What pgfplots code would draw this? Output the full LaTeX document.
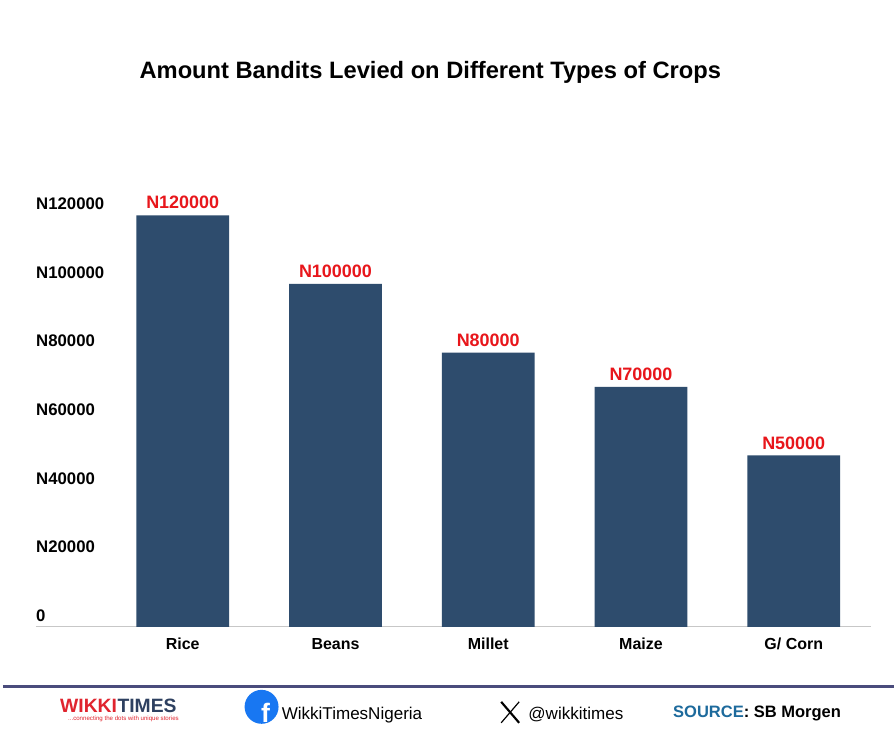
\documentclass[border=0pt]{standalone}
\usepackage{pgfplots}
\pgfplotsset{compat=1.18}
\usepackage{fontspec}
\setmainfont{Liberation Sans}
\definecolor{barblue}{HTML}{2E4C6D}
\definecolor{lblred}{HTML}{E8161B}
\definecolor{footline}{HTML}{4A4C7C}
\definecolor{fbblue}{HTML}{1877F2}
\definecolor{srcblue}{HTML}{1D6A9C}
\definecolor{wred}{HTML}{E0242E}
\definecolor{wdark}{HTML}{2E4060}
\begin{document}
\begin{tikzpicture}
\fill[white] (0,0) rectangle (671.25pt,564pt);
\begin{axis}[
  at={(27pt,93pt)}, anchor=south west,
  scale only axis, width=627pt, height=335pt,
  xmin=-0.961, xmax=4.503, ymin=0, ymax=130000,
  enlargelimits=false,
  scaled y ticks=false,
  axis x line=bottom, axis y line=left,
  x axis line style={draw=black!22, line width=0.75pt, -},
  y axis line style={draw=none},
  major tick length=0pt,
  xtick={0,1,2,3,4},
  xticklabels={Rice,Beans,Millet,Maize,G/ Corn},
  ytick={0,20000,40000,60000,80000,100000,120000},
  yticklabels={0,N20000,N40000,N60000,N80000,N100000,N120000},
  xticklabel style={font=\fontsize{12}{14}\selectfont\bfseries, anchor=north, inner sep=0pt, yshift=-8.25pt},
  yticklabel style={font=\fontsize{12.6}{14}\selectfont\bfseries, anchor=west, inner sep=0pt, yshift=8.6pt},
  /pgf/number format/1000 sep={},
  /pgf/number format/assume math mode=true,
  ybar, bar width=0.608,
  nodes near coords={N\pgfmathprintnumber[fixed,precision=0,1000 sep={},assume math mode=true]{\pgfplotspointmeta}},
  every node near coord/.append style={font=\fontsize{13.5}{15}\selectfont\bfseries, text=lblred, anchor=south, inner sep=0pt, yshift=4.5pt},
]
\addplot[fill=barblue, draw=none] coordinates {(0,120000) (1,100000) (2,80000) (3,70000) (4,50000)};
\end{axis}
\begin{scope}[yshift=564pt, x=0.75pt, y=-0.75pt]
\node[font=\fontsize{17.8}{21}\selectfont\bfseries] at (431,73) {Amount Bandits Levied on Different Types of Crops};
\draw[footline, line width=2.2pt] (3,687.5) -- (895,687.5);
% logo
\node[anchor=base west, inner sep=0pt, font=\fontsize{14.5}{16}\selectfont\bfseries, text=wred] (w) at (60,714) {WIKKI};
\node[anchor=base west, inner sep=0pt, font=\fontsize{14.5}{16}\selectfont\bfseries, text=wdark] at (w.base east) {TIMES};
\node[anchor=base west, inner sep=0pt, font=\fontsize{4.6}{5}\selectfont, text=wred] at (68,722) {...connecting the dots with unique stories};
% facebook
\fill[fbblue] (262,708) circle[radius=17];
\node[text=white, font=\fontsize{20}{22}\selectfont\bfseries, inner sep=0pt, anchor=base] at (266,724) {f};
\node[anchor=base west, inner sep=0pt, font=\fontsize{12.8}{15}\selectfont] at (282,721) {WikkiTimesNigeria};
% X logo
\draw[black, line width=1.6pt] (502,703) -- (520,724);
\draw[black, line width=0.9pt] (520,703) -- (502,724);
\node[anchor=base west, inner sep=0pt, font=\fontsize{12.8}{15}\selectfont] at (529,721) {@wikkitimes};
% source
\node[anchor=base west, inner sep=0pt, font=\fontsize{12.4}{15}\selectfont\bfseries] at (674,719) {\textcolor{srcblue}{SOURCE}: SB Morgen};
\end{scope}
\end{tikzpicture}
\end{document}
